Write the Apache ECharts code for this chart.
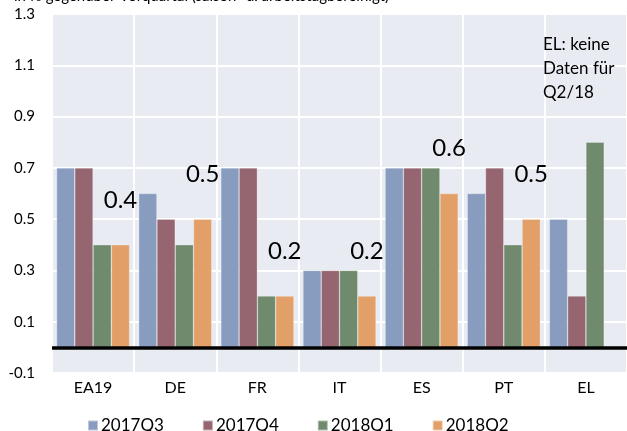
<!DOCTYPE html>
<html>
<head>
<meta charset="utf-8">
<script src="https://cdn.jsdelivr.net/npm/echarts@6/dist/echarts.min.js"></script>
<style>
  html, body { margin: 0; padding: 0; background: #ffffff; }
  #chart { width: 627px; height: 431px; }
</style>
</head>
<body>
<div id="chart"></div>
<script>
// Countries on the category axis
const countries = ['EA19', 'DE', 'FR', 'IT', 'ES', 'PT', 'EL'];
// Quarter-on-quarter change in % per quarter (EL has no figure for 2018Q2)
const q2017q3 = [0.7, 0.6, 0.7, 0.3, 0.7, 0.6, 0.5];
const q2017q4 = [0.7, 0.5, 0.7, 0.3, 0.7, 0.7, 0.2];
const q2018q1 = [0.4, 0.4, 0.2, 0.3, 0.7, 0.4, 0.8];
const q2018q2 = [0.4, 0.5, 0.2, 0.2, 0.6, 0.5, null];
const seriesNames = ['2017Q3', '2017Q4', '2018Q1', '2018Q2'];
// Value axis ticks
const yMin = -0.1, yMax = 1.3, yStep = 0.2;

const colors = ['#889CBF', '#956570', '#6F8A6C', '#E2A068'];
const fontFamily = 'Lato, "Open Sans", "DejaVu Sans", sans-serif';

const chart = echarts.init(document.getElementById('chart'), null, { renderer: 'canvas' });

const values = [q2017q3, q2017q4, q2018q1, q2018q2];

const series = values.map((data, i) => {
  const s = {
    name: seriesNames[i],
    type: 'bar',
    data: data,
    barGap: '0%',
    barCategoryGap: '11%',
    itemStyle: {
      color: colors[i],
      borderColor: 'rgba(255,255,255,0.45)',
      borderWidth: 0.6
    }
  };
  if (i === 3) {
    // The latest quarter carries its value as a label
    s.label = {
      show: true,
      position: 'top',
      distance: 33,
      fontSize: 24,
      fontFamily: fontFamily,
      color: '#000000',
      formatter: p => p.value == null ? '' : p.value.toFixed(1)
    };
  }
  if (i === 0) {
    // Baseline at zero
    s.markLine = {
      silent: true,
      symbol: 'none',
      z: 10,
      label: { show: false },
      lineStyle: { color: '#000000', width: 3.5, type: 'solid' },
      data: [{ yAxis: 0 }]
    };
  }
  return s;
});

chart.setOption({
  animation: false,
  backgroundColor: '#ffffff',
  color: colors,
  textStyle: { fontFamily: fontFamily },
  grid: {
    left: 52,
    right: -7,
    top: 14,
    bottom: 58,
    show: true,
    backgroundColor: '#E8EBF2',
    borderWidth: 0,
    containLabel: false
  },
  legend: {
    data: seriesNames,
    left: 82,
    top: 412,
    itemWidth: 10,
    itemHeight: 10,
    itemGap: 38,
    icon: 'rect',
    textStyle: { fontSize: 17, color: '#000000', fontFamily: fontFamily, padding: [0, 0, 0, -2] }
  },
  graphic: [
    {
      type: 'text',
      left: 14,
      top: -11,
      style: {
        text: 'in % gegenüber Vorquartal (saison- u. arbeitstagbereinigt)',
        fontSize: 15,
        fontFamily: fontFamily,
        fill: '#000000'
      }
    },
    {
      type: 'text',
      left: 543,
      top: 33,
      z: 20,
      style: {
        text: 'EL: keine\nDaten für\nQ2/18',
        fontSize: 17,
        lineHeight: 24,
        fontFamily: fontFamily,
        fill: '#000000'
      }
    }
  ],
  xAxis: {
    type: 'category',
    data: countries,
    axisLine: { show: false },
    axisTick: { show: false },
    axisLabel: { fontSize: 16, color: '#000000', margin: 7, fontFamily: fontFamily },
    splitLine: { show: true, interval: 0, lineStyle: { color: '#ffffff', width: 2 } }
  },
  yAxis: {
    type: 'value',
    min: yMin,
    max: yMax,
    interval: yStep,
    axisLine: { show: false },
    axisTick: { show: false },
    axisLabel: {
      fontSize: 15,
      color: '#000000',
      margin: 17,
      fontFamily: fontFamily,
      formatter: v => (Math.round(v * 10) / 10).toFixed(1)
    },
    splitLine: { show: true, lineStyle: { color: '#ffffff', width: 2 } }
  },
  series: series
});
</script>
</body>
</html>
